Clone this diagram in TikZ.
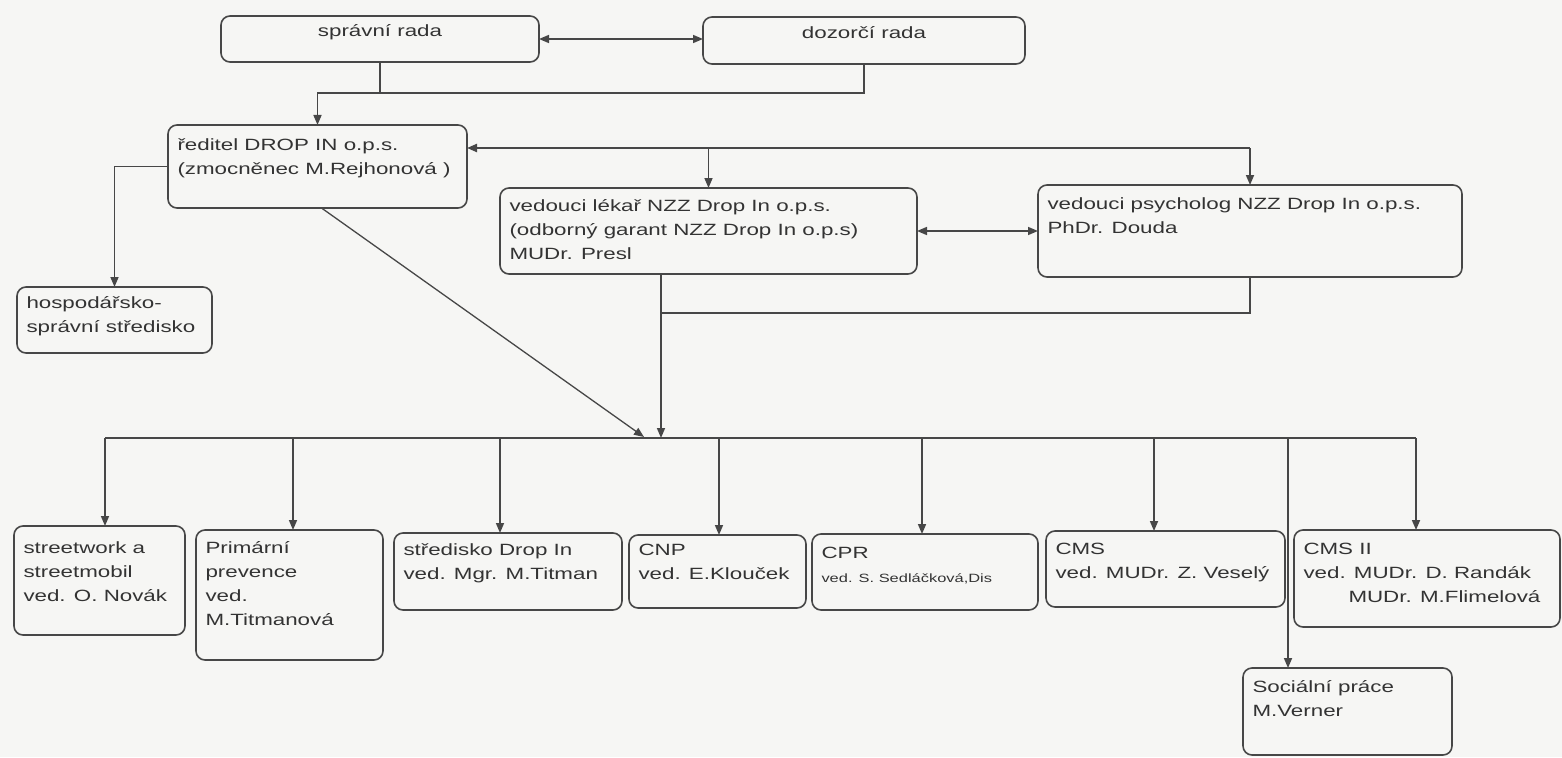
\documentclass[tikz,border=0pt]{standalone}
\usepackage{fontspec}
\setmainfont{Liberation Sans}[FakeStretch=1.37]
\usetikzlibrary{arrows.meta}
\definecolor{bg}{HTML}{F6F6F4}
\definecolor{ln}{HTML}{474747}
\definecolor{tx}{HTML}{333333}
\newcommand{\bxt}[4]{\begin{minipage}[c][#2pt][t]{#1pt}\raggedright\leftskip=9.5pt\rule{0pt}{#3pt}#4\end{minipage}}
\newcommand{\bxc}[4]{\begin{minipage}[c][#2pt][t]{#1pt}\centering\rule{0pt}{#3pt}#4\end{minipage}}
\tikzset{
  bx/.style={draw=ln, line width=1.6pt, rounded corners=9pt, inner sep=0pt, outer sep=0pt,
    anchor=north west, text=tx, font=\fontsize{16.3}{24}\selectfont},
  con/.style={draw=ln, line width=1.6pt},
  arr/.style={con, -{Triangle[length=10pt,width=8pt]}},
  darr/.style={con, {Triangle[length=10pt,width=8pt]}-{Triangle[length=10pt,width=8pt]}},
}
\begin{document}
\begin{tikzpicture}[x=1pt,y=-1pt]
\fill[bg] (0,0) rectangle (1562,757);
\useasboundingbox (0,0) rectangle (1562,757);

% boxes
\node[bx] (spr) at (221,16) {\bxc{318}{46}{21}{správní rada}};
\node[bx] (doz) at (703,17) {\bxc{322}{47}{22}{dozorčí rada}};
\node[bx] (red) at (168,125) {\bxt{299}{83}{25}{ředitel DROP IN o.p.s.\\(zmocněnec M.Rejhonová )}};
\node[bx] (lek) at (500,188) {\bxt{417}{86}{23}{vedouci lékař NZZ Drop In o.p.s.\\(odborný garant NZZ Drop In o.p.s)\\MUDr. Presl}};
\node[bx] (psy) at (1038,185) {\bxt{424}{92}{24}{vedouci psycholog NZZ Drop In o.p.s.\\PhDr. Douda}};
\node[bx] (hos) at (17,287) {\bxt{195}{66}{21}{hospodářsko-\\správní středisko}};
\node[bx] (str) at (14,526) {\bxt{171}{109}{27}{streetwork a\\streetmobil\\ved. O. Novák}};
\node[bx] (pri) at (196,530) {\bxt{187}{130}{23}{Primární\\prevence\\ved.\\M.Titmanová}};
\node[bx] (sdi) at (394,533) {\bxt{228}{77}{22}{středisko Drop In\\ved. Mgr. M.Titman}};
\node[bx] (cnp) at (629,535) {\bxt{177}{73}{20}{CNP\\ved. E.Klouček}};
\node[bx] (cpr) at (812,534) {\bxt{226}{76}{24}{CPR\\{\fontsize{12}{24}\selectfont ved. S. Sedláčková,Dis}}};
\node[bx] (cms) at (1046,531) {\bxt{239}{76}{23}{CMS\\ved. MUDr. Z. Veselý}};
\node[bx] (cmsb) at (1294,530) {\bxt{266}{97}{24}{CMS II\\ved. MUDr. D. Randák\\\hspace*{45pt}MUDr. M.Flimelová}};
\node[bx] (soc) at (1243,668) {\bxt{209}{87}{24}{Sociální práce\\M.Verner}};

% top connectors
\coordinate (jt) at (380,93);
\draw[darr] (spr.east) -- (spr.east -| doz.west);
\draw[arr] (spr.south) -- (jt) -| (red.north);
\draw[con] (doz.south) |- (jt);

\coordinate (jr) at (1250,148);
\draw[con] (jr) -- (jr -| lek.north);
\draw[arr, line width=2.2pt] (jr -| lek.north) -- (jr -| red.east);
\draw[arr] (jr) -- (psy.north);
\draw[arr] (jr -| lek.north) -- (lek.north);
\draw[arr] (red.west) -| (hos.north);
\draw[darr] (lek.east) -- (psy.west);

% down to the bus
\coordinate (jb) at (661,438);
\coordinate (jm) at (661,313);
\coordinate (jd) at (644,437);
\draw[arr] (jb |- lek.south) -- (jb);
\draw[con] (psy.south) |- (jm);
\draw[arr, line width=1.3pt] ([xshift=4pt]red.south) -- (jd);

% bus
\coordinate (b1) at (105,438);
\coordinate (b2) at (293,438);
\coordinate (b3) at (500,438);
\coordinate (b4) at (719,438);
\coordinate (b5) at (922,438);
\coordinate (b6) at (1154,438);
\coordinate (b7) at (1288,438);
\coordinate (b8) at (1416,438);
\draw[con] (b1) -- (b8);
\draw[arr] (b1) -- (b1 |- str.north);
\draw[arr] (b2) -- (b2 |- pri.north);
\draw[arr] (b3) -- (b3 |- sdi.north);
\draw[arr] (b4) -- (b4 |- cnp.north);
\draw[arr] (b5) -- (b5 |- cpr.north);
\draw[arr] (b6) -- (b6 |- cms.north);
\draw[arr] (b7) -- (b7 |- soc.north);
\draw[arr] (b8) -- (b8 |- cmsb.north);
\end{tikzpicture}
\end{document}
